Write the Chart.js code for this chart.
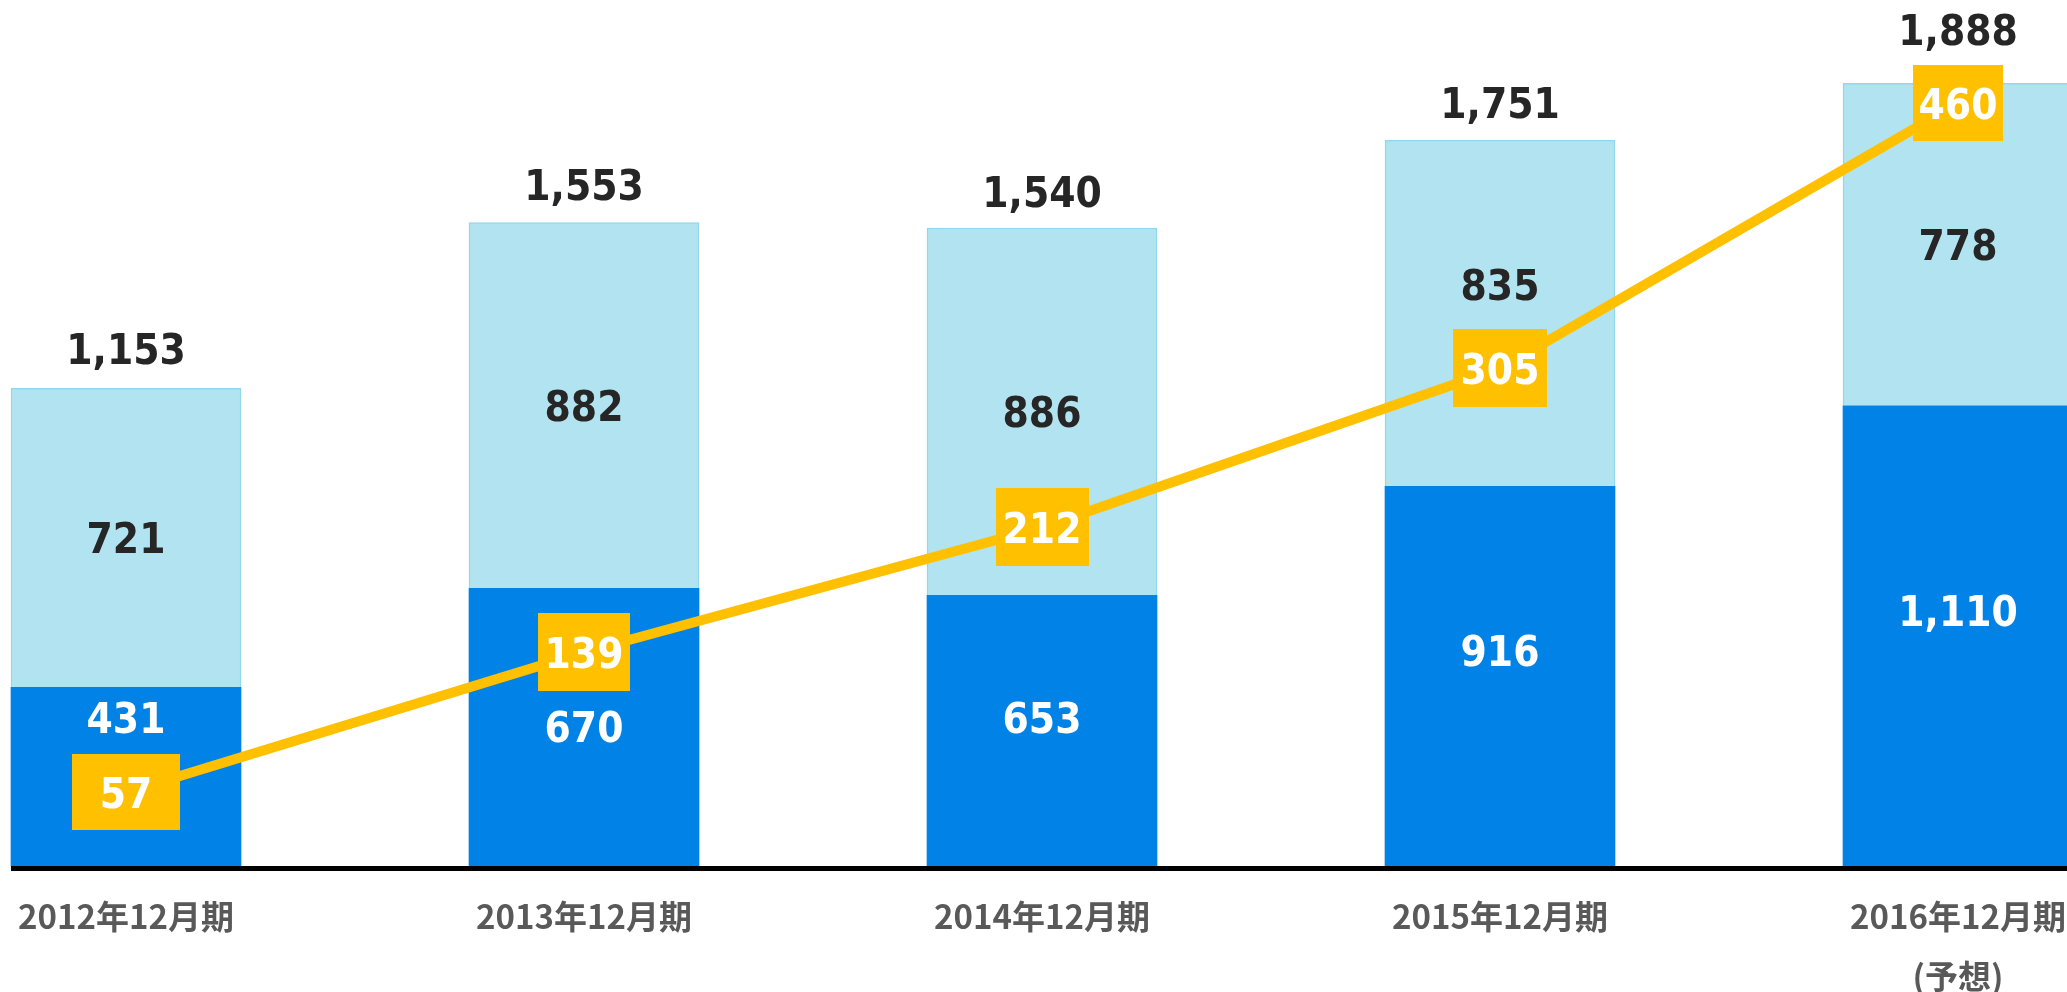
<!DOCTYPE html>
<html>
<head>
<meta charset="utf-8">
<script src="https://cdn.jsdelivr.net/npm/chart.js@4/dist/chart.umd.min.js"></script>
<style>
  html, body { margin: 0; padding: 0; background: #fff; }
  #wrap { position: relative; width: 2067px; height: 992px; }
</style>
</head>
<body>
<div id="wrap"><canvas id="chart"></canvas></div>
<script>
// data
const categories = ["2012年12月期", "2013年12月期", "2014年12月期", "2015年12月期", ["2016年12月期", "(予想)"]];
const lowerValues = [431, 670, 653, 916, 1110];
const upperValues = [721, 882, 886, 835, 778];
const totalLabels = [1153, 1553, 1540, 1751, 1888];
const lineValues = [57, 139, 212, 305, 460];

// colours
const darkBlue = "#0082E6";
const lightBlue = "#B1E4F0";
const gold = "#FFC000";

// small layout tweaks so the labels sit where they do in the picture
const lowerShift = [-59, 0, -13, -25, -25];
const upperShift = [0, 0, 0, -29, 0];
const totalGap = [40, 38, 36, 37, 54];
const boxW = [108, 92, 93, 94, 90];
const boxH = [76, 78, 78, 78, 76];

const boxes = lineValues.map((v, i) => {
    const c = document.createElement("canvas");
    c.width = boxW[i];
    c.height = boxH[i];
    const g = c.getContext("2d");
    g.fillStyle = gold;
    g.fillRect(0, 0, c.width, c.height);
    return c;
});

const fmt = (n) => n.toLocaleString("en-US");

function drawNum(ctx, text, x, y, color) {
    // Verdana-ish bold, a little narrow like the source
    const size = 42;
    ctx.save();
    ctx.translate(x, y);
    ctx.scale(0.9, 1);
    ctx.font = "bold " + size + "px Verdana, 'DejaVu Sans', sans-serif";
    ctx.fillStyle = color;
    ctx.textAlign = "center";
    ctx.textBaseline = "alphabetic";
    ctx.fillText(text, 0, size * 0.729 / 2);
    ctx.restore();
}

const labelPlugin = {
    id: "barLabels",
    afterDatasetsDraw(chart) {
        const ctx = chart.ctx;
        const xs = chart.scales.x;
        const lower = chart.getDatasetMeta(0).data;
        const upper = chart.getDatasetMeta(1).data;
        const pts = chart.getDatasetMeta(2).data;

        // base line
        ctx.save();
        ctx.fillStyle = "#000";
        ctx.fillRect(lower[0].x - lower[0].width / 2, chart.scales.y.getPixelForValue(0), chart.width, 5);
        ctx.restore();

        categories.forEach((cat, i) => {
            const lb = lower[i], ub = upper[i];
            drawNum(ctx, fmt(lowerValues[i]), lb.x, (lb.y + lb.base) / 2 + lowerShift[i], "#FFFFFF");
            drawNum(ctx, fmt(upperValues[i]), ub.x, (ub.y + ub.base) / 2 + upperShift[i], "#262626");
            drawNum(ctx, fmt(totalLabels[i]), ub.x, ub.y - totalGap[i], "#262626");
            drawNum(ctx, fmt(lineValues[i]), pts[i].x, pts[i].y, "#FFFFFF");

            // category labels under the axis
            const lines = Array.isArray(cat) ? cat : [cat];
            ctx.save();
            ctx.font = "bold 33px 'Noto Sans CJK JP'";
            ctx.fillStyle = "#595959";
            ctx.textAlign = "center";
            ctx.textBaseline = "middle";
            lines.forEach((t, k) => ctx.fillText(t, xs.getPixelForValue(i), 916 + k * 60));
            ctx.restore();
        });
    }
};

const ctx = document.getElementById("chart").getContext("2d");
new Chart(ctx, {
    data: {
        labels: categories,
        datasets: [
            {
                type: "bar",
                data: lowerValues,
                backgroundColor: darkBlue,
                borderWidth: 0,
                barThickness: 230,
                stack: "s",
                yAxisID: "y",
                clip: false,
                order: 2,
            },
            {
                type: "bar",
                data: upperValues,
                backgroundColor: lightBlue,
                borderColor: "#92D8EC",
                borderWidth: 1.5,
                barThickness: 230,
                stack: "s",
                yAxisID: "y",
                clip: false,
                order: 2,
            },
            {
                type: "line",
                data: lineValues,
                borderColor: gold,
                borderWidth: 10,
                pointStyle: boxes,
                pointRadius: 40,
                tension: 0,
                yAxisID: "y1",
                clip: false,
                order: 1,
            },
        ],
    },
    options: {
        responsive: true,
        maintainAspectRatio: false,
        animation: false,
        events: [],
        layout: { autoPadding: false, padding: { left: 126, right: 109, top: 0, bottom: 126 } },
        plugins: { legend: { display: false }, tooltip: { enabled: false } },
        scales: {
            x: { display: false, offset: false, stacked: true },
            y: { display: false, stacked: true, min: 0, max: 2089 },
            y1: { display: false, min: 14, max: 520.5 },
        },
    },
    plugins: [labelPlugin],
});
</script>
</body>
</html>
